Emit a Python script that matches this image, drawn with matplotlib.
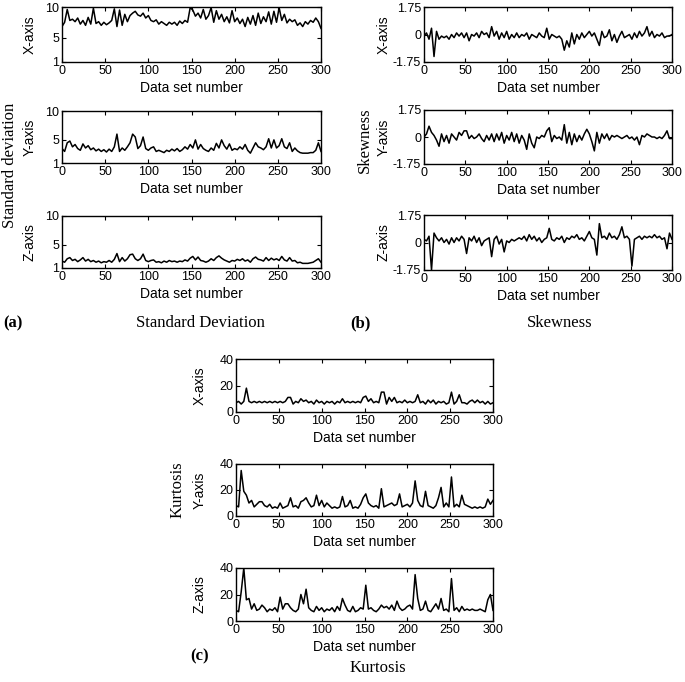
import numpy as np
import matplotlib
matplotlib.use('Agg')
import matplotlib.pyplot as plt

# values, one point every ~3 data sets
std_x = [6.8,7.5,9.6,7.8,8.0,7.6,8.2,7.2,7.8,7.0,8.3,7.2,9.8,7.3,7.6,7.0,7.5,7.1,7.4,7.8,
         9.7,6.8,9.5,7.0,8.8,7.6,8.6,9.0,9.3,8.7,8.5,9.0,8.2,8.6,7.8,7.6,7.9,7.2,7.6,7.3,
         7.0,7.5,7.2,7.5,7.0,7.7,7.3,7.8,7.5,9.9,9.5,8.5,9.0,8.2,9.6,8.0,8.6,9.9,7.5,9.4,
         8.0,8.8,7.6,8.4,7.4,9.4,7.6,8.2,7.3,8.0,6.8,8.3,7.2,8.6,7.0,9.0,7.3,8.4,7.6,9.2,
         7.2,9.3,7.5,9.9,7.8,8.8,7.4,8.0,7.6,7.9,7.0,7.4,6.8,7.6,7.2,7.8,7.5,8.2,7.6,6.5]
std_y = [3.5,3.0,4.5,4.8,3.8,4.2,3.5,3.2,4.3,3.6,4.0,3.3,3.6,3.1,3.4,3.0,3.3,2.9,3.4,3.0,
         3.8,6.0,3.0,3.6,3.2,3.8,4.5,6.0,5.5,3.5,4.0,5.5,3.5,3.2,3.6,3.8,3.0,3.2,3.0,2.8,
         3.2,3.0,3.4,3.1,3.5,3.0,3.3,3.8,3.4,4.2,3.6,5.0,3.4,4.2,3.5,3.2,3.0,3.6,3.2,4.4,
         3.6,5.0,4.0,3.4,4.3,3.2,3.5,3.3,3.8,3.4,4.2,3.2,2.7,3.6,4.5,3.8,3.6,3.3,3.8,5.2,
         3.6,5.0,3.6,4.0,5.2,3.8,3.5,4.5,3.0,3.6,3.1,2.8,2.7,2.7,2.7,2.8,2.8,3.2,4.5,3.0]
std_z = [2.2,2.0,2.6,2.8,2.3,2.5,2.1,2.4,2.8,2.2,2.5,2.1,2.3,2.0,2.2,1.9,2.1,2.0,2.3,2.0,
         2.5,3.5,2.1,2.8,2.2,2.6,3.3,3.4,2.6,2.3,2.6,3.4,2.3,2.1,2.3,2.4,2.0,2.1,1.9,2.2,
         2.0,2.3,2.1,2.2,2.0,2.2,2.1,2.4,2.2,2.7,3.0,2.4,2.9,2.3,2.2,2.0,2.2,2.6,2.3,2.8,
         3.1,2.7,2.4,2.2,2.0,2.3,2.2,2.5,2.3,2.6,2.2,2.4,2.0,2.6,2.9,2.5,2.4,2.2,2.8,2.3,
         2.7,2.4,2.6,2.3,3.0,2.4,2.2,2.8,2.2,2.3,1.9,2.0,1.8,1.8,1.8,1.9,2.0,2.3,2.6,2.0]

skew_x = [-0.1,0.1,-0.3,0.4,-1.4,0.2,-0.3,-0.1,-0.2,-0.1,-0.3,0.0,-0.2,0.1,-0.1,0.1,-0.2,0.1,-0.4,0.0,
          -0.1,0.1,-0.2,0.2,0.0,0.1,-0.2,0.5,-0.1,0.2,-0.3,0.1,-0.2,0.2,-0.3,0.0,-0.2,0.1,-0.2,0.0,
          -0.1,0.1,-0.3,0.0,-0.1,-0.2,0.1,-0.1,-0.2,0.4,-0.3,0.0,-0.1,-0.2,-0.1,-0.3,-1.0,-0.4,-0.8,0.1,
          -0.6,0.0,-0.3,0.1,-0.2,0.0,0.2,-0.1,0.1,-0.3,-0.7,0.2,-0.2,-0.1,0.3,-0.4,0.0,-0.5,-0.1,0.2,
          -0.2,-0.1,0.0,-0.3,0.1,-0.2,0.2,-0.1,0.1,0.5,-0.1,0.2,-0.2,0.0,-0.1,0.1,-0.2,-0.1,-0.1,0.0]
skew_y = [0.0,0.2,0.7,0.3,0.1,-0.2,-0.6,0.2,-0.3,0.1,-0.4,0.2,0.0,-0.2,0.3,0.1,0.4,0.4,-0.1,0.1,
          -0.1,0.0,0.2,-0.1,-0.3,0.1,-0.2,0.2,-0.3,0.2,-0.2,0.3,-0.4,0.1,-0.2,0.3,-0.3,0.2,-0.4,0.1,
          -0.2,-0.8,0.2,-0.4,-0.7,0.0,-0.1,0.1,0.0,0.4,0.6,-0.3,0.1,-0.1,0.0,-0.2,0.8,-0.4,0.3,-0.5,
          0.2,-0.3,0.1,-0.2,0.2,0.5,0.2,-0.3,-0.9,0.3,-0.4,0.2,-0.1,0.2,-0.2,0.1,0.0,0.1,0.0,-0.1,
          0.0,0.1,-0.1,0.0,-0.2,0.0,-0.5,0.1,0.0,0.2,0.1,0.0,0.0,-0.1,0.0,-0.1,0.1,0.4,-0.1,-0.1]
skew_z = [0.2,0.1,0.4,-1.75,0.6,0.3,0.1,0.3,0.0,0.2,-0.1,0.3,0.0,0.3,0.1,0.4,0.2,-0.7,0.3,0.1,
          0.4,0.0,0.3,-0.2,0.1,0.2,0.3,-0.9,0.2,0.4,-0.1,0.2,-0.6,0.1,0.0,0.2,0.1,0.2,0.3,0.2,
          0.4,0.1,0.5,0.2,0.4,0.1,0.3,0.0,0.2,0.3,0.9,0.2,0.1,0.3,0.2,0.4,0.0,0.3,0.2,0.4,
          0.3,0.5,0.2,0.3,0.1,0.4,0.7,0.3,0.2,-0.8,1.2,0.3,0.4,0.2,0.6,0.3,0.4,0.2,0.5,1.0,
          0.3,0.4,0.2,-1.5,0.2,0.3,0.4,0.2,0.4,0.3,0.4,0.3,0.5,0.3,0.4,0.2,0.3,-0.4,0.6,0.2]

kurt_x = [7,8,6,8,18,8,7,8,7,8,7,8,7,8,7,8,7,8,7,8,
          11,11,6,8,7,10,8,9,7,8,6,9,7,8,6,8,7,8,6,8,
          7,10,7,8,7,8,7,8,7,11,12,8,10,7,8,7,15,15,6,11,
          8,11,7,8,7,9,7,8,7,8,13,7,8,6,9,7,9,6,8,7,
          8,6,7,15,6,8,13,7,7,6,8,9,7,9,7,8,6,8,6,7]
kurt_y = [8,7,35,19,16,10,12,7,9,11,11,8,7,9,6,7,6,10,6,7,
          8,14,7,8,6,11,12,14,10,7,8,16,8,12,7,10,8,6,7,6,
          7,15,7,8,12,6,7,6,9,14,17,10,8,7,8,6,21,7,8,9,
          10,8,9,17,7,8,9,7,10,27,12,8,7,19,8,7,6,8,14,22,
          7,10,7,30,7,9,7,16,9,8,7,6,7,6,7,6,7,13,9,12]
kurt_z = [8,7,22,40,16,17,9,13,8,9,12,10,7,9,8,10,7,18,9,13,
          13,10,8,7,9,20,13,24,10,8,7,11,8,10,7,9,8,10,7,11,
          8,17,12,8,7,11,7,8,10,9,27,9,10,8,7,9,12,10,11,9,
          12,8,15,10,8,9,11,12,9,35,17,8,9,15,8,7,10,13,9,17,
          8,9,7,32,8,10,7,11,8,9,8,9,8,8,9,8,7,16,20,8]

axis_names = ['X-axis', 'Y-axis', 'Z-axis']

W, H = 685, 682
fig = plt.figure(figsize=(W / 100, H / 100), dpi=100)

sans = 'Liberation Sans'
serif = 'Liberation Serif'


def box(l, r, t, b):
    return [l / W, 1 - b / H, (r - l) / W, (b - t) / H]


def panel(rect, vals, ylim, yticks, yticklabels, name, ypad):
    ax = fig.add_axes(rect)
    x = np.linspace(0, 300, len(vals))
    ax.plot(x, vals, color='black', lw=1.1)
    ax.set_xlim(0, 300)
    ax.set_ylim(*ylim)
    ax.set_xticks(range(0, 301, 50))
    ax.set_yticks(yticks)
    ax.set_yticklabels(yticklabels)
    ax.tick_params(direction='in', top=True, right=True, length=3, width=0.8,
                   labelsize=9, pad=2)
    for lab in ax.get_xticklabels() + ax.get_yticklabels():
        lab.set_family(sans)
    ax.set_xlabel('Data set number', family=sans, fontsize=10, labelpad=3)
    ax.set_ylabel(name, family=sans, fontsize=10, labelpad=ypad)
    for s in ax.spines.values():
        s.set_linewidth(1.0)
    return ax


# (a) standard deviation
std_rows = [(7, 62), (111, 163), (216, 268)]
for (t, b), vals, name in zip(std_rows, [std_x, std_y, std_z], axis_names):
    panel(box(62, 321, t, b), vals, (1, 10), [1, 5, 10], ['1', '5', '10'], name, 6)

# (b) skewness
skew_rows = [(7, 62), (110, 164), (215, 270)]
for (t, b), vals, name in zip(skew_rows, [skew_x, skew_y, skew_z], axis_names):
    panel(box(424, 672, t, b), vals, (-1.75, 1.75), [-1.75, 0, 1.75],
          ['-1.75', '0', '1.75'], name, 2)

# (c) kurtosis
kurt_rows = [(359, 412), (464, 516), (568, 621)]
for (t, b), vals, name in zip(kurt_rows, [kurt_x, kurt_y, kurt_z], axis_names):
    panel(box(236, 493, t, b), vals, (0, 40), [0, 20, 40], ['0', '20', '40'], name, 9)

# group labels
def txt(x, y, s, **kw):
    fig.text(x / W, 1 - y / H, s, family=serif, **kw)

txt(10, 165, 'Standard deviation', rotation=90, ha='center', va='center', fontsize=12)
txt(365, 140, 'Skewness', rotation=90, ha='center', va='center', fontsize=12)
txt(178, 490, 'Kurtosis', rotation=90, ha='center', va='center', fontsize=12)

txt(3, 323, '(a)', ha='left', va='center', fontsize=12, weight='bold')
txt(200, 323, 'Standard Deviation', ha='center', va='center', fontsize=12)
txt(350, 323, '(b)', ha='left', va='center', fontsize=12, weight='bold')
txt(560, 323, 'Skewness', ha='center', va='center', fontsize=12)
txt(190, 656, '(c)', ha='left', va='center', fontsize=12, weight='bold')
txt(378, 668, 'Kurtosis', ha='center', va='center', fontsize=12)

fig.savefig('out.png', dpi=100)
